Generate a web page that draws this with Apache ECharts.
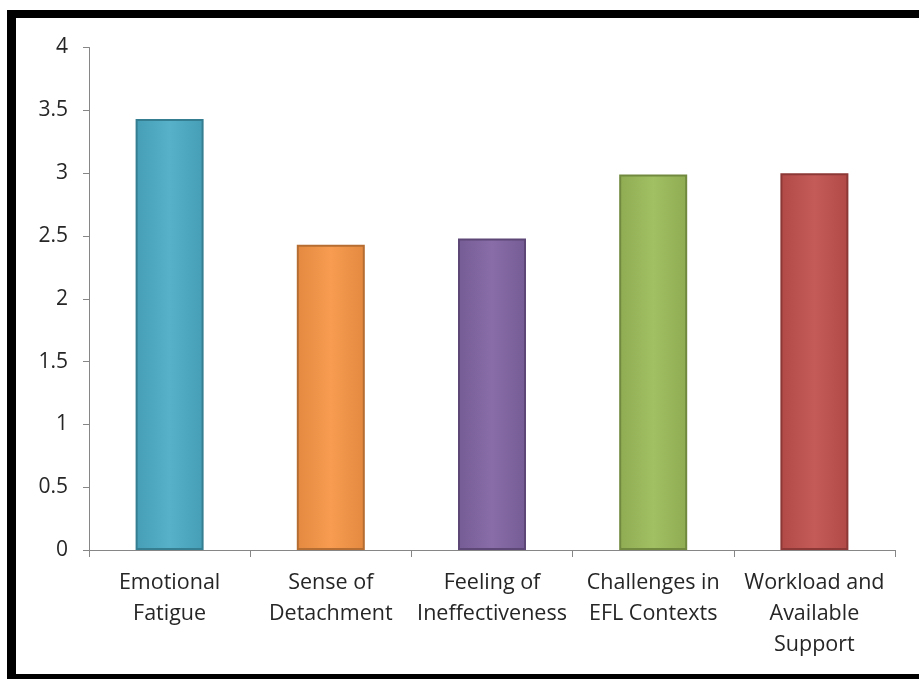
<!DOCTYPE html>
<html>
<head>
<meta charset="utf-8">
<title>Burnout dimensions</title>
<script src="https://cdn.jsdelivr.net/npm/echarts@6/dist/echarts.min.js"></script>
<style>
  * { margin: 0; padding: 0; }
  html, body { width: 919px; height: 679px; background: #fff; overflow: hidden; }
  #main { position: absolute; left: 0; top: 0; width: 919px; height: 679px; }
  /* black frame of the pasted picture (no right edge, it is cut off) */
  #frame {
    position: absolute; left: 7px; top: 10px; width: 930px; height: 669px;
    box-sizing: border-box;
    border-left: 9px solid #000; border-top: 8px solid #000; border-bottom: 5px solid #000;
    pointer-events: none;
  }
</style>
</head>
<body>
<div id="main"></div>
<div id="frame"></div>
<script>
  // data
  var categories = ['Emotional\nFatigue', 'Sense of\nDetachment', 'Feeling of\nIneffectiveness',
                    'Challenges in\nEFL Contexts', 'Workload and\nAvailable\nSupport'];
  var values = [3.43, 2.43, 2.48, 2.99, 3.00];
  var barColors = ['#4BACC6', '#F79646', '#8064A2', '#9BBB59', '#C0504D'];
  var barEdges  = ['#357D91', '#B66D31', '#5C4776', '#71893F', '#8C3836'];

  function shade(hex, k) {
    var n = parseInt(hex.slice(1), 16);
    var r = (n >> 16) & 255, g = (n >> 8) & 255, b = n & 255;
    function f(c) { return Math.max(0, Math.min(255, Math.round(k > 0 ? c + (255 - c) * k : c * (1 + k)))); }
    return 'rgb(' + f(r) + ',' + f(g) + ',' + f(b) + ')';
  }

  var chart = echarts.init(document.getElementById('main'));
  var font = '"Open Sans", "Noto Sans", sans-serif';

  chart.setOption({
    animation: false,
    grid: { left: 89, right: 24, top: 47.5, bottom: 129 },
    xAxis: {
      type: 'category',
      data: categories,
      axisLine: { lineStyle: { color: '#868686', width: 1 } },
      axisTick: { show: true, length: 7, lineStyle: { color: '#868686' } },
      axisLabel: {
        interval: 0, margin: 17, color: '#262626', fontFamily: font,
        fontSize: 21.5, lineHeight: 31
      }
    },
    yAxis: {
      type: 'value', min: 0, max: 4, interval: 0.5,
      splitLine: { show: false },
      axisLine: { show: true, lineStyle: { color: '#868686', width: 1 } },
      axisTick: { show: true, length: 6, lineStyle: { color: '#868686' } },
      axisLabel: { margin: 21, color: '#262626', fontFamily: font, fontSize: 21 }
    },
    series: [{
      type: 'bar',
      barWidth: 68,
      data: values.map(function (v, i) {
        return {
          value: v,
          itemStyle: {
            color: new echarts.graphic.LinearGradient(0, 0, 1, 0, [
              { offset: 0, color: shade(barColors[i], -0.08) },
              { offset: 0.5, color: shade(barColors[i], 0.06) },
              { offset: 1, color: shade(barColors[i], -0.08) }
            ]),
            borderColor: barEdges[i],
            borderWidth: 2
          }
        };
      })
    }]
  });
</script>
</body>
</html>
